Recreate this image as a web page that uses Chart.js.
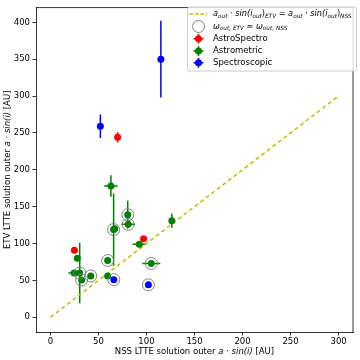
<!DOCTYPE html>
<html>
<head>
<meta charset="utf-8">
<script src="https://cdn.jsdelivr.net/npm/chart.js@4.4.1/dist/chart.umd.min.js"></script>
<style>
  html, body { margin: 0; padding: 0; background: #fff; }
  #c { display: block; }
</style>
</head>
<body>
<canvas id="c" width="360" height="360"></canvas>
<script>
// AstroSpectro (vermelho)
const astroX    = [25, 70, 97];
const astroY    = [91, 244, 106.5];
const astroXErr = [0, 1.5, 0];
const astroYErr = [0, 7, 0];
const astroCirc = [0, 0, 0];

// Astrometric (verde)
const astromX    = [28, 24.7, 30.5, 32.5, 42, 59.6, 59.6, 63, 65.8, 67, 80.5, 81, 92.5, 126.4, 105];
const astromY    = [80, 60, 60, 50.5, 56, 77, 56, 178, 119, 120, 139, 126, 99, 131, 73];
const astromXErr = [0, 6, 0, 0, 0, 0, 0, 7, 0, 0, 0, 7, 7, 3, 9.4];
const astromYErr = [0, 0, 41, 0, 0, 0, 0, 14.5, 49, 0, 19, 0, 0, 9.6, 0];
const astromCirc = [0, 0, 1, 1, 1, 1, 0, 0, 1, 0, 1, 1, 0, 0, 1];

// Spectroscopic (azul)
const specX    = [115, 52, 66, 102];
const specY    = [350, 259, 51, 44];
const specXErr = [0, 0, 0, 0];
const specYErr = [52, 16, 0, 0];
const specCirc = [0, 0, 1, 1];

// reta 1:1
const lineX = [0, 300];
const lineY = [0, 300];

const xTicks = [0, 50, 100, 150, 200, 250, 300];
const yTicks = [0, 50, 100, 150, 200, 250, 300, 350, 400];

const FONT = 'DejaVu Sans';
const RED = '#ff0000', GREEN = '#008000', BLUE = '#0000ff', YEL = '#bfbf00', RING = '#808080';

const grupos = [
  { label: 'AstroSpectro', color: RED, x: astroX, y: astroY, xe: astroXErr, ye: astroYErr, circ: astroCirc },
  { label: 'Astrometric', color: GREEN, x: astromX, y: astromY, xe: astromXErr, ye: astromYErr, circ: astromCirc },
  { label: 'Spectroscopic', color: BLUE, x: specX, y: specY, xe: specXErr, ye: specYErr, circ: specCirc }
];

const pts = (xs, ys) => xs.map((v, i) => ({ x: v, y: ys[i] }));

// anéis: pontos com omega compatível
const aneis = [];
grupos.forEach(g => g.circ.forEach((c, i) => { if (c) aneis.push({ x: g.x[i], y: g.y[i] }); }));

// texto com itálico / subscrito (estilo mathtext)
function richWidth(ctx, segs, size) {
  let w = 0;
  segs.forEach(s => {
    ctx.font = `${s.it ? 'italic ' : ''}${s.sub ? size * 0.7 : size}px "${FONT}"`;
    w += ctx.measureText(s.t).width;
  });
  return w;
}
function drawRich(ctx, segs, x, y, size, align) {
  let cx = align === 'center' ? x - richWidth(ctx, segs, size) / 2 : x;
  ctx.textBaseline = 'middle';
  ctx.textAlign = 'left';
  segs.forEach(s => {
    ctx.font = `${s.it ? 'italic ' : ''}${s.sub ? size * 0.7 : size}px "${FONT}"`;
    ctx.fillText(s.t, cx, y + (s.sub ? size * 0.25 : 0));
    cx += ctx.measureText(s.t).width;
  });
}
const asin = tag => [
  { t: 'a', it: 1 }, { t: 'out', it: 1, sub: 1 }, { t: ' · ' }, { t: 'sin(', it: 1 },
  { t: 'i', it: 1 }, { t: 'out', it: 1, sub: 1 }, { t: ')' }, { t: tag, it: 1, sub: 1 }
];
const leg1 = [...asin('ETV'), { t: ' = ' }, ...asin('NSS')];
const leg2 = [{ t: 'ω', it: 1 }, { t: 'out, ETV', it: 1, sub: 1 }, { t: ' ≈ ' }, { t: 'ω', it: 1 }, { t: 'out, NSS', it: 1, sub: 1 }];
const axisTitle = pre => [{ t: pre + ' LTTE solution outer ' }, { t: 'a', it: 1 }, { t: ' · ' }, { t: 'sin(', it: 1 }, { t: 'i', it: 1 }, { t: ')', it: 1 }, { t: ' [AU]' }];

function marcador(ctx, x, y, color, bars) {
  ctx.strokeStyle = color; ctx.lineWidth = 1.5;
  if (bars) {
    ctx.beginPath();
    ctx.moveTo(x - 5, y); ctx.lineTo(x + 5, y);
    ctx.moveTo(x, y - 5); ctx.lineTo(x, y + 5);
    ctx.stroke();
  }
  ctx.fillStyle = color;
  ctx.beginPath(); ctx.arc(x, y, 3.5, 0, Math.PI * 2); ctx.fill();
}

const extras = {
  id: 'extras',
  beforeDatasetsDraw(chart) {
    const { ctx, chartArea: a, scales: { x, y } } = chart;
    ctx.save();
    ctx.beginPath(); ctx.rect(a.left, a.top, a.right - a.left, a.bottom - a.top); ctx.clip();
    ctx.lineWidth = 1.5;
    grupos.forEach(g => {
      ctx.strokeStyle = g.color;
      g.x.forEach((vx, i) => {
        const vy = g.y[i];
        ctx.beginPath();
        if (g.xe[i]) {
          ctx.moveTo(x.getPixelForValue(vx - g.xe[i]), y.getPixelForValue(vy));
          ctx.lineTo(x.getPixelForValue(vx + g.xe[i]), y.getPixelForValue(vy));
        }
        if (g.ye[i]) {
          ctx.moveTo(x.getPixelForValue(vx), y.getPixelForValue(vy - g.ye[i]));
          ctx.lineTo(x.getPixelForValue(vx), y.getPixelForValue(vy + g.ye[i]));
        }
        ctx.stroke();
      });
    });
    ctx.restore();
  },
  afterDraw(chart) {
    const { ctx, chartArea: a } = chart;
    ctx.save();
    // spines de cima e da direita
    ctx.strokeStyle = '#000'; ctx.lineWidth = 0.8;
    ctx.beginPath();
    ctx.moveTo(a.left, a.top); ctx.lineTo(a.right, a.top); ctx.lineTo(a.right, a.bottom);
    ctx.stroke();

    // títulos dos eixos
    ctx.fillStyle = '#000';
    drawRich(ctx, axisTitle('NSS'), (a.left + a.right) / 2, 352, 8.5, 'center');
    ctx.save();
    ctx.translate(8, (a.top + a.bottom) / 2);
    ctx.rotate(-Math.PI / 2);
    drawRich(ctx, axisTitle('ETV'), 0, 0, 8.5, 'center');
    ctx.restore();

    // legenda
    const bx = 187.5, by = 7, bw = 169, bh = 64;
    ctx.fillStyle = 'rgba(255,255,255,0.8)';
    ctx.strokeStyle = '#cccccc'; ctx.lineWidth = 1;
    ctx.beginPath(); ctx.roundRect(bx, by, bw, bh, 2.5); ctx.fill(); ctx.stroke();

    const mx = 198.5, tx = 213, rows = [14, 26.5, 38.8, 51, 62.8];
    ctx.strokeStyle = YEL; ctx.lineWidth = 1.5; ctx.setLineDash([3.5, 2]);
    ctx.beginPath(); ctx.moveTo(189.5, rows[0]); ctx.lineTo(207, rows[0]); ctx.stroke();
    ctx.setLineDash([]);
    ctx.strokeStyle = RING; ctx.lineWidth = 1;
    ctx.beginPath(); ctx.arc(mx, rows[1], 6, 0, Math.PI * 2); ctx.stroke();
    grupos.forEach((g, i) => marcador(ctx, mx, rows[2 + i], g.color, true));

    ctx.fillStyle = '#000';
    drawRich(ctx, leg1, tx, rows[0], 8.2, 'left');
    drawRich(ctx, leg2, tx, rows[1], 8.2, 'left');
    grupos.forEach((g, i) => drawRich(ctx, [{ t: g.label }], tx, rows[2 + i], 8.5, 'left'));
    ctx.restore();
  }
};

const tickFont = { family: FONT, size: 8.5 };

new Chart(document.getElementById('c'), {
  type: 'scatter',
  data: {
    datasets: [
      { type: 'line', data: pts(lineX, lineY), borderColor: YEL, borderWidth: 1.5, borderDash: [4, 3],
        pointRadius: 0, fill: false, order: 5 },
      ...grupos.map((g, i) => ({
        label: g.label, data: pts(g.x, g.y), backgroundColor: g.color, borderWidth: 0,
        pointRadius: 3.5, order: 4 - i
      })),
      { data: aneis, backgroundColor: 'rgba(0,0,0,0)', borderColor: RING, borderWidth: 1,
        pointRadius: 6, order: 0 }
    ]
  },
  options: {
    responsive: false, animation: false, devicePixelRatio: 1,
    layout: { padding: { left: 0, top: 3, right: 3, bottom: 0 } },
    plugins: { legend: { display: false }, tooltip: { enabled: false } },
    scales: {
      x: {
        type: 'linear', min: -15, max: 315,
        afterBuildTicks: s => { s.ticks = xTicks.map(v => ({ value: v })); },
        afterFit: s => { s.height = 28; },
        ticks: { font: tickFont, color: '#000', padding: 1.5, maxRotation: 0, autoSkip: false },
        grid: { drawOnChartArea: false, tickLength: 3.5, tickColor: '#000', tickWidth: 0.8 },
        border: { color: '#000', width: 0.8 }
      },
      y: {
        type: 'linear', min: -20, max: 420,
        afterBuildTicks: s => { s.ticks = yTicks.map(v => ({ value: v })); },
        afterFit: s => { s.width = 36; },
        ticks: { font: tickFont, color: '#000', padding: 2.5, autoSkip: false },
        grid: { drawOnChartArea: false, tickLength: 3.5, tickColor: '#000', tickWidth: 0.8 },
        border: { color: '#000', width: 0.8 }
      }
    }
  },
  plugins: [extras]
});
</script>
</body>
</html>
